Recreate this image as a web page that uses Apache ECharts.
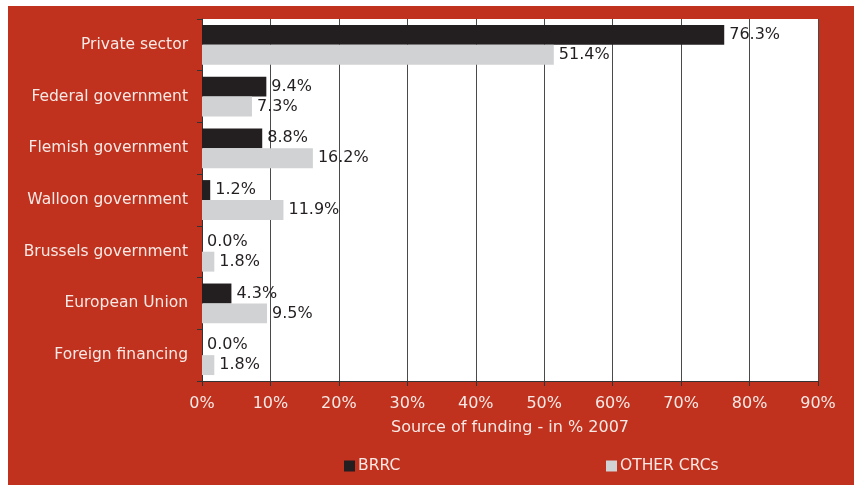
<!DOCTYPE html>
<html>
<head>
<meta charset="utf-8">
<script src="https://cdn.jsdelivr.net/npm/echarts@6/dist/echarts.min.js"></script>
<style>
  html, body { margin: 0; padding: 0; background: #ffffff; }
  #frame { position: absolute; left: 8px; top: 6px; width: 846px; height: 479px; background: #c0311e; }
  #chart { position: absolute; left: 0; top: 0; width: 854px; height: 485px; }
</style>
</head>
<body>
<div id="frame"></div>
<div id="chart"></div>
<script>
// Funding sources, share of total (%), 2007
const categories = ['Private sector', 'Federal government', 'Flemish government', 'Walloon government', 'Brussels government', 'European Union', 'Foreign financing'];
const brrcValues = [76.3, 9.4, 8.8, 1.2, 0.0, 4.3, 0.0];
const otherCrcValues = [51.4, 7.3, 16.2, 11.9, 1.8, 9.5, 1.8];
const seriesNames = ['BRRC', 'OTHER CRCs'];
const axisTitle = 'Source of funding - in % 2007';

const font = 'DejaVu Sans';
const lightText = '#f7e9e5';

const chart = echarts.init(document.getElementById('chart'), null, { renderer: 'canvas' });

const barLabel = {
  show: true,
  position: 'right',
  distance: 5,
  color: '#231f20',
  fontFamily: font,
  fontSize: 16,
  formatter: p => p.value.toFixed(1) + '%'
};

const legendText = { color: lightText, fontFamily: font, fontSize: 15.5, padding: [0, 0, 0, -2] };

chart.setOption({
  backgroundColor: 'transparent',
  animation: false,
  grid: { left: 202, right: 36, top: 19, bottom: 104, backgroundColor: '#ffffff', show: true, borderWidth: 0 },
  legend: [
    { data: [seriesNames[0]], left: 344, top: 458, padding: 0, itemWidth: 11, itemHeight: 11, icon: 'rect', textStyle: legendText },
    { data: [seriesNames[1]], left: 606, top: 458, padding: 0, itemWidth: 11, itemHeight: 11, icon: 'rect', textStyle: legendText }
  ],
  xAxis: {
    type: 'value',
    min: 0, max: 90, interval: 10,
    name: axisTitle,
    nameLocation: 'middle',
    nameGap: 39,
    nameTextStyle: { color: lightText, fontFamily: font, fontSize: 16 },
    axisLine: { show: true, lineStyle: { color: '#333333', width: 1 } },
    axisTick: { show: true, length: 5, lineStyle: { color: '#333333' } },
    axisLabel: { color: lightText, fontFamily: font, fontSize: 16, margin: 15, formatter: '{value}%' },
    splitLine: { show: true, lineStyle: { color: '#4a4a4a', width: 1 } }
  },
  yAxis: {
    type: 'category',
    data: categories,
    inverse: true,
    axisLine: { show: true, lineStyle: { color: '#333333', width: 1 } },
    axisTick: { show: true, length: 5, lineStyle: { color: '#333333' } },
    axisLabel: { color: lightText, fontFamily: font, fontSize: 15.5, margin: 14 },
    splitLine: { show: false }
  },
  series: [
    {
      name: seriesNames[0], type: 'bar', data: brrcValues,
      itemStyle: { color: '#231f20' },
      barGap: '0%', barCategoryGap: '23%',
      label: barLabel
    },
    {
      name: seriesNames[1], type: 'bar', data: otherCrcValues,
      itemStyle: { color: '#d1d2d4' },
      barGap: '0%', barCategoryGap: '23%',
      label: barLabel
    }
  ]
});
</script>
</body>
</html>
